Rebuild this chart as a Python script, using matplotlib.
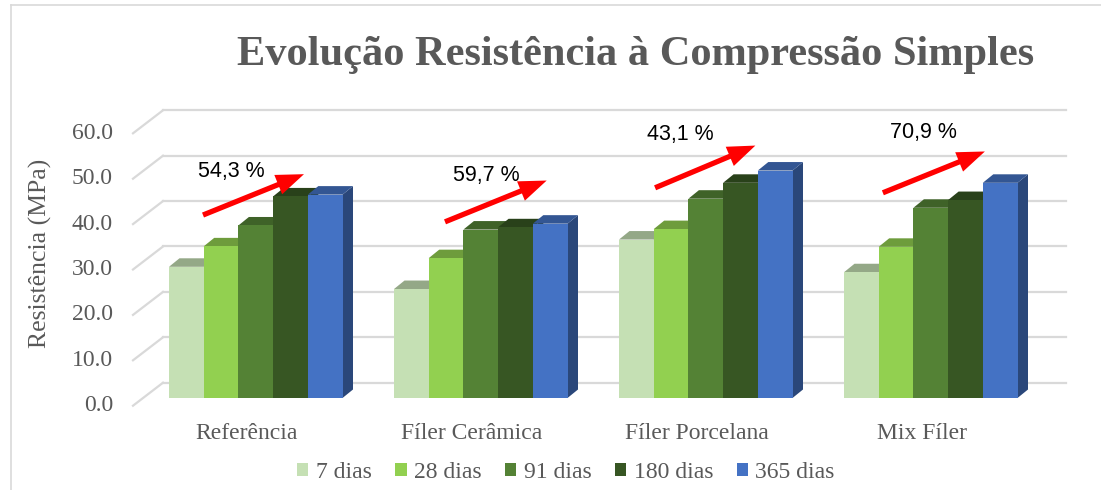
import numpy as np
import matplotlib.pyplot as plt
from matplotlib.patches import Polygon, Patch
from matplotlib.colors import to_rgb

# ---- data ----
groups   = ['Referência', 'Fíler Cerâmica', 'Fíler Porcelana', 'Mix Fíler']
series   = ['7 dias', '28 dias', '91 dias', '180 dias', '365 dias']
d7       = [28.9, 24.0, 34.9, 27.7]
d28      = [33.4, 30.8, 37.2, 33.3]
d91      = [38.0, 37.1, 43.9, 41.9]
d180     = [44.4, 37.6, 47.4, 43.6]
d365     = [44.8, 38.4, 50.1, 47.4]
gains    = ['54,3 %', '59,7 %', '43,1 %', '70,9 %']
yticks   = [0, 10, 20, 30, 40, 50, 60]

colors   = ['#C5E0B4', '#92D050', '#548235', '#375623', '#4472C4']
gray     = '#595959'
grid_c   = '#D9D9D9'

# ---- pixel layout (the axes fills the figure; 1 x-unit = one bar width) ----
W, H = 1101, 490
PX_UNIT, PX_MPA = 34.7, 4.54
X0, Y0 = 169, 398            # left edge of first bar, bar base (pixels)

def px2x(px):
    return (px - X0) / PX_UNIT

def px2y(py):
    return (Y0 - py) / PX_MPA

GROUP_STEP = px2x(169 + 225)
DX, DY = 10.5 / PX_UNIT, 8.5 / PX_MPA          # bar depth
WALL_DY = px2y(382.7)                           # back wall zero
FRONT_DY = px2y(405.7)                          # front edge zero

# arrow tails / tips and label spots (x relative to group start, y in MPa)
arr_tail = [(0.98, 40.3), (1.47, 38.8), (1.04, 46.3), (1.12, 45.2)]
arr_tip  = [(3.89, 49.3), (4.40, 47.9), (3.93, 55.6), (4.06, 54.3)]
lab_pos  = [(1.81, 49.8), (2.65, 49.1), (1.78, 58.1), (2.28, 58.4)]

plt.rcParams['font.family'] = ['Liberation Serif', 'DejaVu Serif']

fig = plt.figure(figsize=(W / 100, H / 100), dpi=100)
ax = fig.add_axes([0, 0, 1, 1])
ax.set_xlim(px2x(0), px2x(W))
ax.set_ylim(px2y(H), px2y(0))
ax.axis('off')

# chart border (top and left visible)
ax.plot([px2x(11), px2x(11)], [px2y(5), px2y(H)], color=grid_c, lw=1.2)
ax.plot([px2x(11), px2x(W)], [px2y(5), px2y(5)], color=grid_c, lw=1.2)

# back wall grid + side wall diagonals
wall_x0, wall_x1 = px2x(163), px2x(1066)
front_x = px2x(133)
for v in yticks:
    ax.plot([wall_x0, wall_x1], [v + WALL_DY, v + WALL_DY], color=grid_c, lw=1.6, zorder=1)
    ax.plot([front_x, wall_x0], [v + FRONT_DY, v + WALL_DY], color=grid_c, lw=1.6, zorder=1)
    ax.text(px2x(113), v + FRONT_DY, f'{v:.1f}', ha='right', va='center',
            fontsize=17, color=gray)

ax.text(px2x(40), px2y(253), 'Resistência (MPa)', rotation=90, ha='center', va='center',
        fontsize=18.5, color=gray)


def shade(c, f):
    r, g, b = to_rgb(c)
    return (r * f, g * f, b * f)


data = [d7, d28, d91, d180, d365]
z = 3
for gi in range(len(groups)):
    g0 = gi * GROUP_STEP
    for si, vals in enumerate(data):
        v = vals[gi]
        x = g0 + si
        c = colors[si]
        side = Polygon([(x + 1, 0), (x + 1 + DX, DY), (x + 1 + DX, v + DY), (x + 1, v)],
                       closed=True, fc=shade(c, 0.62), ec='none', zorder=z)
        top = Polygon([(x, v), (x + DX, v + DY), (x + 1 + DX, v + DY), (x + 1, v)],
                      closed=True, fc=shade(c, 0.75), ec='none', zorder=z)
        ax.add_patch(side)
        ax.add_patch(top)
        ax.bar(x, v, width=1, align='edge', color=c, zorder=z + 0.5)
        z += 1

    # category label
    ax.text(g0 + 2.5 - 9 / PX_UNIT, px2y(433), groups[gi], ha='center', va='center',
            fontsize=17, color=gray)

    # red growth arrow and percentage
    tx, ty = arr_tail[gi]
    hx, hy = arr_tip[gi]
    ax.annotate('', xy=(g0 + hx, hy), xytext=(g0 + tx, ty),
                arrowprops=dict(arrowstyle='simple,head_length=1.0,head_width=0.75,tail_width=0.19',
                                mutation_scale=20, fc='#FF0000', ec='none',
                                shrinkA=0, shrinkB=0),
                zorder=100)
    lx, ly = lab_pos[gi]
    ax.text(g0 + lx, ly, gains[gi], ha='center', va='center', fontsize=15.5,
            family='Liberation Sans', color='black', zorder=101)

# title
ax.text(px2x(636), px2y(65), 'Evolução Resistência à Compressão Simples', ha='center',
        va='baseline', fontsize=30.5, fontweight='bold', color=gray)

# legend
handles = [Patch(facecolor=c, edgecolor='none') for c in colors]
leg = ax.legend(handles, series, loc='center', ncol=5, frameon=False,
                bbox_to_anchor=(566 / W, 1 - 472 / H), bbox_transform=fig.transFigure,
                fontsize=17, handlelength=0.47, handleheight=0.47, handletextpad=0.3,
                columnspacing=1.02, borderpad=0, labelcolor=gray)

fig.savefig('out.png', dpi=100)
